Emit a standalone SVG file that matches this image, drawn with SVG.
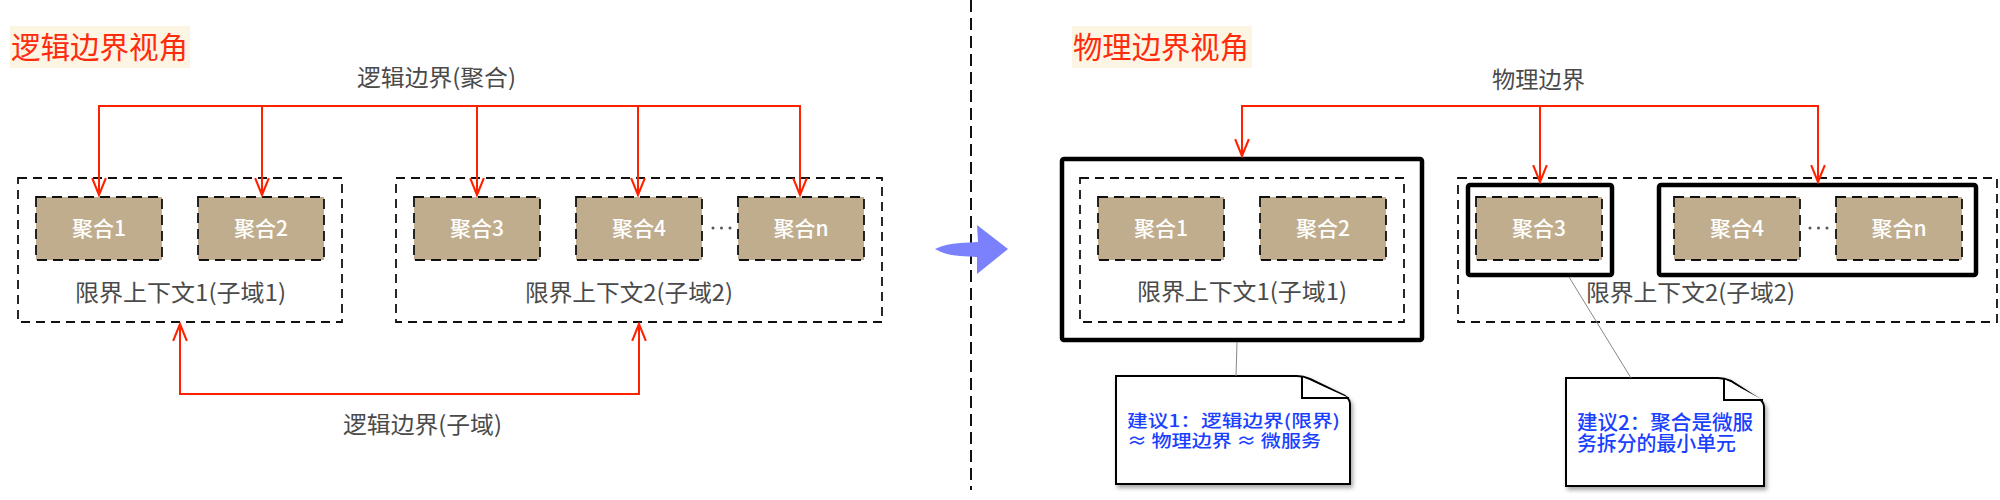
<svg xmlns="http://www.w3.org/2000/svg" width="2000" height="500" viewBox="0 0 2000 500">
<style>
text{font-family:"Noto Sans CJK SC","Noto Sans",sans-serif}
.title{font-size:30px;fill:#fe2c0c}
.tbg{fill:#fdf5e4}
.lbl{font-size:23px;fill:#4a4a4a}
.agg{fill:#bfad8d;stroke:#111;stroke-width:1.8;stroke-dasharray:10 6}
.aggt{font-size:21px;fill:#fff;text-anchor:middle;font-weight:500}
.ctx{fill:none;stroke:#111;stroke-width:1.8;stroke-dasharray:9 6}
.phy{fill:none;stroke:#000;stroke-width:4.5}
.red{fill:none;stroke:#ff2200;stroke-width:2}
.note{fill:#fff;stroke:#000;stroke-width:2;filter:url(#sh)}
.flap{fill:#fff;stroke:#000;stroke-width:2}
.nt{fill:#1a40ff;font-weight:500}
.dot{fill:#555}
.lead{stroke:#888;stroke-width:1;fill:none}
</style>
<defs>
<marker id="ah" markerUnits="userSpaceOnUse" markerWidth="20" markerHeight="20" viewBox="-17 -8 19 16" refX="0" refY="0" orient="auto-start-reverse">
<path d="M-16,-6.5 L0,0 L-16,6.5" fill="none" stroke="#ff2200" stroke-width="2"/>
</marker>
<filter id="sh" x="-10%" y="-10%" width="130%" height="130%">
<feDropShadow dx="2" dy="3" stdDeviation="2" flood-color="#000" flood-opacity="0.35"/>
</filter>
</defs>
<rect width="2000" height="500" fill="#fff"/>

<g id="titles">
<rect class="tbg" x="10" y="26" width="180" height="42"/>
<text class="title" x="11" y="58" textLength="177" lengthAdjust="spacingAndGlyphs">逻辑边界视角</text>
<rect class="tbg" x="1072" y="26" width="180" height="42"/>
<text class="title" x="1073" y="58" textLength="176" lengthAdjust="spacingAndGlyphs">物理边界视角</text>
</g>

<g id="divider"><line x1="971" y1="0" x2="971" y2="490" stroke="#111" stroke-width="2" stroke-dasharray="12 6"/></g>

<g id="transform-arrow"><path d="M935,249 Q945,244 960,243 L978,242 L977,225 L1008,249 L977,274 L977,257 L960,256 Q945,255 935,249 Z" fill="#7b80fc"/></g>

<g id="left-ctx1">
<rect class="ctx" x="18" y="178" width="324" height="144"/>
<text class="lbl" x="75" y="300.5" textLength="211" lengthAdjust="spacingAndGlyphs">限界上下文1(子域1)</text>
</g>
<g id="left-ctx2">
<rect class="ctx" x="396" y="178" width="486" height="144"/>
<text class="lbl" x="525" y="301" textLength="208" lengthAdjust="spacingAndGlyphs">限界上下文2(子域2)</text>
</g>
<g id="left-agg1"><rect class="agg" x="36" y="197" width="126" height="63"/><text class="aggt" x="99" y="236">聚合1</text></g>
<g id="left-agg2"><rect class="agg" x="198" y="197" width="126" height="63"/><text class="aggt" x="261" y="236">聚合2</text></g>
<g id="left-agg3"><rect class="agg" x="414" y="197" width="126" height="63"/><text class="aggt" x="477" y="236">聚合3</text></g>
<g id="left-agg4"><rect class="agg" x="576" y="197" width="126" height="63"/><text class="aggt" x="639" y="236">聚合4</text></g>
<g id="left-aggn"><rect class="agg" x="738" y="197" width="126" height="63"/><text class="aggt" x="801" y="236">聚合n</text></g>
<g id="left-dots"><circle class="dot" cx="713" cy="228" r="1.5"/><circle class="dot" cx="721.5" cy="228" r="1.5"/><circle class="dot" cx="730" cy="228" r="1.5"/></g>
<g id="left-labels">
<text class="lbl" x="357" y="85.5" textLength="159" lengthAdjust="spacingAndGlyphs">逻辑边界(聚合)</text>
<text class="lbl" x="343" y="432.5" textLength="159" lengthAdjust="spacingAndGlyphs">逻辑边界(子域)</text>
</g>

<g id="right-phy1"><rect class="phy" x="1062" y="159" width="360" height="181" rx="2"/></g>
<g id="right-ctx1">
<rect class="ctx" x="1080" y="178" width="324" height="144"/>
<text class="lbl" x="1137" y="299.5" textLength="210" lengthAdjust="spacingAndGlyphs">限界上下文1(子域1)</text>
</g>
<g id="right-ctx2">
<rect class="ctx" x="1458" y="178" width="539" height="144"/>
<text class="lbl" x="1586" y="300.5" textLength="209" lengthAdjust="spacingAndGlyphs">限界上下文2(子域2)</text>
</g>
<g id="right-phy2"><rect class="phy" x="1468" y="185" width="144" height="90" rx="2"/></g>
<g id="right-phy3"><rect class="phy" x="1659" y="185" width="317" height="90" rx="2"/></g>
<g id="right-agg1"><rect class="agg" x="1098" y="197" width="126" height="63"/><text class="aggt" x="1161" y="236">聚合1</text></g>
<g id="right-agg2"><rect class="agg" x="1260" y="197" width="126" height="63"/><text class="aggt" x="1323" y="236">聚合2</text></g>
<g id="right-agg3"><rect class="agg" x="1476" y="197" width="126" height="63"/><text class="aggt" x="1539" y="236">聚合3</text></g>
<g id="right-agg4"><rect class="agg" x="1674" y="197" width="126" height="63"/><text class="aggt" x="1737" y="236">聚合4</text></g>
<g id="right-aggn"><rect class="agg" x="1836" y="197" width="126" height="63"/><text class="aggt" x="1899" y="236">聚合n</text></g>
<g id="right-dots"><circle class="dot" cx="1810" cy="228" r="1.5"/><circle class="dot" cx="1818.5" cy="228" r="1.5"/><circle class="dot" cx="1827" cy="228" r="1.5"/></g>
<g id="right-label"><text class="lbl" x="1492" y="87.5" textLength="93" lengthAdjust="spacingAndGlyphs">物理边界</text></g>

<g id="note1">
<path class="note" d="M1116,376 L1297,376 Q1303,376 1310,379 L1345,396 Q1350,399 1350,404 L1350,484 L1116,484 Z"/>
<path class="flap" d="M1302,377 L1302,398 L1349,398"/>
<text class="nt" font-size="17"><tspan x="1127" y="426.5" textLength="213" lengthAdjust="spacingAndGlyphs">建议1：逻辑边界(限界)</tspan><tspan x="1127" y="446.5" textLength="194" lengthAdjust="spacingAndGlyphs">≈ 物理边界 ≈ 微服务</tspan></text>
</g>
<g id="note2">
<path class="note" d="M1566,378 L1718,378 Q1724,378 1731,381 L1759,399 Q1764,402 1764,407 L1764,486 L1566,486 Z"/>
<path class="flap" d="M1724,379 L1724,400 L1763,400"/>
<text class="nt" font-size="20"><tspan x="1577" y="429.5" textLength="176" lengthAdjust="spacingAndGlyphs">建议2：聚合是微服</tspan><tspan x="1577" y="450.5" textLength="159" lengthAdjust="spacingAndGlyphs">务拆分的最小单元</tspan></text>
</g>

<g id="connectors">
<path class="red" d="M99,195 L99,106 L800,106 L800,195" marker-start="url(#ah)" marker-end="url(#ah)"/>
<path class="red" d="M262,106 L262,195" marker-end="url(#ah)"/>
<path class="red" d="M477,106 L477,195" marker-end="url(#ah)"/>
<path class="red" d="M638,106 L638,195" marker-end="url(#ah)"/>
<path class="red" d="M180,324 L180,394 L639,394 L639,324" marker-start="url(#ah)" marker-end="url(#ah)"/>
<path class="red" d="M1242,156 L1242,106 L1818,106 L1818,182" marker-start="url(#ah)" marker-end="url(#ah)"/>
<path class="red" d="M1540,106 L1540,182" marker-end="url(#ah)"/>
<line class="lead" x1="1237" y1="342" x2="1236" y2="376"/>
<line class="lead" x1="1569" y1="277" x2="1631" y2="378"/>
</g>
</svg>
